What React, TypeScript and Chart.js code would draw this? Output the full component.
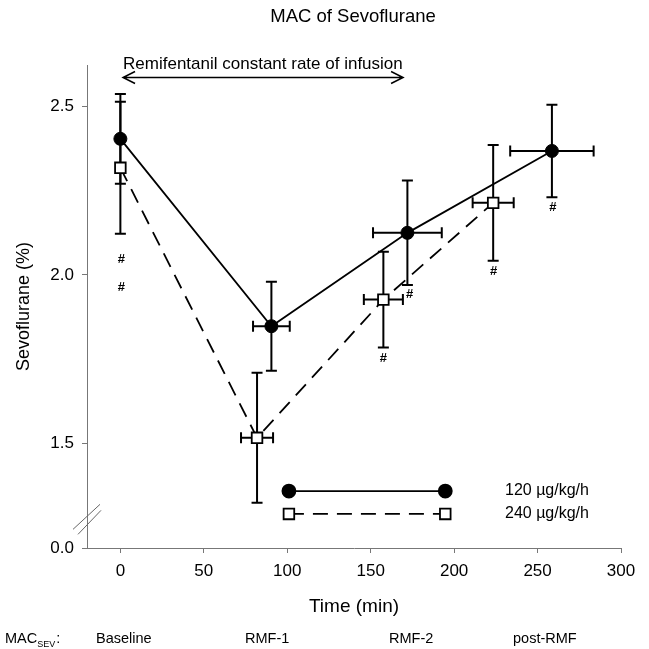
import React, { useEffect, useRef } from "react";
import { Chart, registerables } from "chart.js";

Chart.register(...registerables);

// ---- data ----
const timeLow = [0, 90.5, 172, 258.6];
const macLow = [2.404, 1.848, 2.125, 2.368];
const macLowErr = [0.133, 0.132, 0.155, 0.137];
const timeLowErr = [0, 11, 20.6, 25];

const timeHigh = [0, 81.9, 157.6, 223.4];
const macHigh = [2.318, 1.517, 1.927, 2.214];
const macHighErr = [0.196, 0.193, 0.142, 0.172];
const timeHighErr = [0, 9.6, 11.7, 12.3];

const hashTimes = [0, 0, 157, 172.7, 223, 258.6];
const hashValues = [2.045, 1.964, 1.752, 1.942, 2.01, 2.2];

const legendTimes = [101, 194.7];
const legendLowLevel = [1.359, 1.359];
const legendHighLevel = [1.291, 1.291];
const seriesLabels = ["120 µg/kg/h", "240 µg/kg/h"];

const xTicks = [0, 50, 100, 150, 200, 250, 300];
const yTicks = [1.19, 1.5, 2.0, 2.5];
const yTickLabels = ["0.0", "1.5", "2.0", "2.5"];
const yBreakValue = 1.275;

const infusionStart = 1.6;
const infusionEnd = 169.4;
const infusionLevel = 2.586;
const infusionLabel = "Remifentanil constant rate of infusion";

const phaseLabels = ["Baseline", "RMF-1", "RMF-2", "post-RMF"];

const FONT = '"Liberation Sans", Arial, sans-serif';

const errorBarPlugin = {
  id: "errorBars",
  beforeDatasetsDraw(chart: any) {
    const { ctx, scales } = chart;
    const xs = scales.x;
    const ys = scales.y;
    ctx.save();
    ctx.strokeStyle = "#000";
    ctx.lineWidth = 2;
    const cap = 5.5;
    chart.data.datasets.forEach((ds: any) => {
      if (!ds.errY) return;
      ds.data.forEach((p: any, i: number) => {
        const px = xs.getPixelForValue(p.x);
        const py = ys.getPixelForValue(p.y);
        const ey = ds.errY[i];
        const ex = ds.errX[i];
        if (ey) {
          const t = ys.getPixelForValue(p.y + ey);
          const b = ys.getPixelForValue(p.y - ey);
          ctx.beginPath();
          ctx.moveTo(px, t);
          ctx.lineTo(px, b);
          ctx.moveTo(px - cap, t);
          ctx.lineTo(px + cap, t);
          ctx.moveTo(px - cap, b);
          ctx.lineTo(px + cap, b);
          ctx.stroke();
        }
        if (ex) {
          const l = xs.getPixelForValue(p.x - ex);
          const r = xs.getPixelForValue(p.x + ex);
          ctx.beginPath();
          ctx.moveTo(l, py);
          ctx.lineTo(r, py);
          ctx.moveTo(l, py - cap);
          ctx.lineTo(l, py + cap);
          ctx.moveTo(r, py - cap);
          ctx.lineTo(r, py + cap);
          ctx.stroke();
        }
      });
    });
    ctx.restore();
  },
};

const textPlugin = {
  id: "texts",
  afterDraw(chart: any) {
    const { ctx, scales, chartArea } = chart;
    const xs = scales.x;
    const ys = scales.y;
    ctx.save();
    ctx.fillStyle = "#000";
    ctx.strokeStyle = "#000";

    // title
    ctx.font = `18.5px ${FONT}`;
    ctx.textAlign = "center";
    ctx.textBaseline = "middle";
    ctx.fillText("MAC of Sevoflurane", 353, 17);

    // infusion annotation
    const ax1 = xs.getPixelForValue(infusionStart);
    const ax2 = xs.getPixelForValue(infusionEnd);
    const ay = ys.getPixelForValue(infusionLevel);
    ctx.font = `17px ${FONT}`;
    ctx.textAlign = "left";
    ctx.textBaseline = "alphabetic";
    ctx.fillText(infusionLabel, ax1, ay - 8);
    ctx.lineWidth = 1.5;
    ctx.beginPath();
    ctx.moveTo(ax1, ay);
    ctx.lineTo(ax2, ay);
    ctx.moveTo(ax1 + 12, ay - 6);
    ctx.lineTo(ax1, ay);
    ctx.lineTo(ax1 + 12, ay + 6);
    ctx.moveTo(ax2 - 12, ay - 6);
    ctx.lineTo(ax2, ay);
    ctx.lineTo(ax2 - 12, ay + 6);
    ctx.stroke();

    // hash marks
    ctx.font = `bold 13px ${FONT}`;
    ctx.textAlign = "center";
    ctx.textBaseline = "middle";
    hashTimes.forEach((t, i) => {
      ctx.fillText("#", xs.getPixelForValue(t) + 1, ys.getPixelForValue(hashValues[i]));
    });

    // legend labels
    ctx.font = `16px ${FONT}`;
    ctx.textAlign = "left";
    ctx.fillText(seriesLabels[0], 505, ys.getPixelForValue(legendLowLevel[0]));
    ctx.fillText(seriesLabels[1], 505, ys.getPixelForValue(legendHighLevel[0]));

    // axis break
    const bx = chartArea.left;
    const by = ys.getPixelForValue(yBreakValue);
    ctx.strokeStyle = "#666";
    ctx.lineWidth = 1;
    ctx.beginPath();
    ctx.moveTo(bx - 14, by + 10);
    ctx.lineTo(bx + 13, by - 15);
    ctx.moveTo(bx - 9, by + 15);
    ctx.lineTo(bx + 14, by - 9);
    ctx.stroke();

    // axis titles
    ctx.fillStyle = "#000";
    ctx.font = `19px ${FONT}`;
    ctx.textAlign = "center";
    ctx.textBaseline = "middle";
    ctx.fillText("Time (min)", (chartArea.left + chartArea.right) / 2, 607);
    ctx.save();
    ctx.translate(24, (chartArea.top + chartArea.bottom) / 2);
    ctx.rotate(-Math.PI / 2);
    ctx.font = `18px ${FONT}`;
    ctx.fillText("Sevoflurane (%)", 0, 0);
    ctx.restore();

    // phase row
    ctx.textAlign = "left";
    ctx.textBaseline = "alphabetic";
    ctx.font = `14.5px ${FONT}`;
    ctx.fillText("MAC", 5, 643);
    const w1 = ctx.measureText("MAC").width;
    ctx.font = `9px ${FONT}`;
    ctx.fillText("SEV", 5 + w1, 647);
    const w2 = ctx.measureText("SEV").width;
    ctx.font = `14.5px ${FONT}`;
    ctx.fillText(":", 5 + w1 + w2 + 1, 643);
    const phaseX = [96, 245, 389, 513];
    phaseLabels.forEach((p, i) => ctx.fillText(p, phaseX[i], 643));

    ctx.restore();
  },
};

export default function App() {
  const ref = useRef<HTMLCanvasElement | null>(null);
  useEffect(() => {
    if (!ref.current) return;
    const low = timeLow.map((t, i) => ({ x: t, y: macLow[i] }));
    const high = timeHigh.map((t, i) => ({ x: t, y: macHigh[i] }));
    const chart = new Chart(ref.current, {
      type: "line",
      data: {
        datasets: [
          {
            label: seriesLabels[1],
            data: high,
            errY: macHighErr,
            errX: timeHighErr,
            borderColor: "#000",
            borderWidth: 1.8,
            borderDash: [15, 9],
            pointStyle: "rect",
            pointRadius: 7.5,
            pointBackgroundColor: "#fff",
            pointBorderColor: "#000",
            pointBorderWidth: 1.8,
            fill: false,
            tension: 0,
          } as any,
          {
            label: seriesLabels[0],
            data: low,
            errY: macLowErr,
            errX: timeLowErr,
            borderColor: "#000",
            borderWidth: 1.8,
            pointStyle: "circle",
            pointRadius: 6.5,
            pointBackgroundColor: "#000",
            pointBorderColor: "#000",
            pointBorderWidth: 1,
            fill: false,
            tension: 0,
          } as any,
          {
            label: "legend-low",
            data: legendTimes.map((t, i) => ({ x: t, y: legendLowLevel[i] })),
            borderColor: "#000",
            borderWidth: 1.8,
            pointStyle: "circle",
            pointRadius: 6.5,
            pointBackgroundColor: "#000",
            pointBorderColor: "#000",
            fill: false,
          },
          {
            label: "legend-high",
            data: legendTimes.map((t, i) => ({ x: t, y: legendHighLevel[i] })),
            borderColor: "#000",
            borderWidth: 1.8,
            borderDash: [15, 9],
            pointStyle: "rect",
            pointRadius: 7.5,
            pointBackgroundColor: "#fff",
            pointBorderColor: "#000",
            pointBorderWidth: 1.8,
            fill: false,
          },
        ],
      },
      options: {
        responsive: false,
        animation: false,
        devicePixelRatio: 1,
        layout: { padding: { top: 65, right: 28, bottom: 0, left: 0 } },
        plugins: {
          legend: { display: false },
          title: { display: false },
          tooltip: { enabled: false },
        },
        scales: {
          x: {
            type: "linear",
            min: -20,
            max: 300,
            afterFit: (s: any) => {
              s.height = 101;
            },
            afterBuildTicks: (s: any) => {
              s.ticks = xTicks.map((v) => ({ value: v }));
            },
            grid: {
              display: true,
              drawOnChartArea: false,
              drawTicks: true,
              tickLength: 5,
              color: "#777",
            },
            border: { display: true, color: "#777", width: 1 },
            ticks: {
              color: "#000",
              font: { family: FONT, size: 17 },
              padding: 8,
              maxRotation: 0,
            },
          },
          y: {
            type: "linear",
            min: yTicks[0],
            max: 2.623,
            afterFit: (s: any) => {
              s.width = 87;
            },
            afterBuildTicks: (s: any) => {
              s.ticks = yTicks.map((v) => ({ value: v }));
            },
            grid: {
              display: true,
              drawOnChartArea: false,
              drawTicks: true,
              tickLength: 5,
              color: "#777",
            },
            border: { display: true, color: "#777", width: 1 },
            ticks: {
              color: "#000",
              font: { family: FONT, size: 17 },
              padding: 8,
              callback: (_v: any, i: number) => yTickLabels[i],
            },
          },
        },
      },
      plugins: [errorBarPlugin, textPlugin],
    });
    return () => chart.destroy();
  }, []);

  return (
    <div style={{ position: "fixed", left: 0, top: 0, width: 649, height: 649, background: "#fff" }}>
      <canvas ref={ref} width={649} height={649} style={{ display: "block" }} />
    </div>
  );
}
